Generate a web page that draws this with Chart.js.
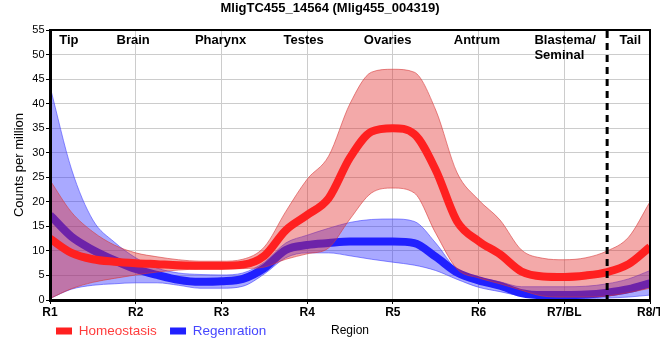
<!DOCTYPE html>
<html><head><meta charset="utf-8">
<script src="https://cdn.jsdelivr.net/npm/chart.js@4.4.1/dist/chart.umd.min.js"></script>
<style>html,body{margin:0;padding:0;background:#fff;overflow:hidden}#wrap{width:660px;height:360px;position:relative;overflow:hidden}</style>
</head><body><div id="wrap"><canvas id="c" width="660" height="360"></canvas></div>
<script>
// ---- data ----
const positions = [1,1.25,1.5,1.75,2,2.25,2.5,2.75,3,3.25,3.5,3.75,4,4.25,4.5,4.75,5,5.25,5.5,5.75,6,6.25,6.5,6.75,7,7.25,7.5,7.75,8];
const regionTicks = ['R1','R2','R3','R4','R5','R6','R7/BL','R8/T'];
const sectionLabels = [['Tip'],['Brain'],['Pharynx'],['Testes'],['Ovaries'],['Antrum'],['Blastema/','Seminal'],['Tail']];
const sectionX = [1.22,1.97,2.99,3.96,4.94,5.98,7.01,7.77];
const dividerX = 7.5;

const homeoMean  = [12.5,9.6,8.3,7.8,7.5,7.3,7.1,7.0,7.0,7.2,9.0,14.2,17.3,20.7,29.0,34.3,35.0,33.8,26.5,16.0,12.0,9.3,5.8,4.8,4.7,5.0,5.7,7.3,10.8];
const homeoUpper = [24.4,17.9,13.9,11.2,9.6,8.8,8.2,7.9,7.9,8.3,10.8,18.0,24.6,29.3,40.0,46.4,47.0,46.4,38.7,25.9,20.4,16.3,10.2,8.5,8.2,8.6,10.0,12.8,20.0];
const homeoLower = [0.3,2.3,3.6,4.4,5.1,5.7,6.1,6.3,6.3,6.4,6.7,8.3,9.4,10.6,16.5,21.8,22.8,21.8,13.6,6.3,4.5,3.3,2.0,0.8,0.6,0.6,0.8,1.5,2.4];

const regenMean  = [17.3,12.9,10.2,8.1,6.3,5.1,4.1,3.7,3.8,4.3,6.5,10.2,11.2,11.6,11.9,11.9,11.9,11.6,8.8,5.6,4.0,2.9,1.4,1.0,1.0,1.1,1.5,2.2,3.4];
const regenUpper = [43.5,26.7,16.3,11.8,8.6,6.5,5.5,5.2,5.1,5.5,7.7,11.6,13.2,14.6,15.8,16.4,16.5,16.0,11.6,6.1,4.6,3.7,2.7,2.7,2.7,2.8,3.3,4.3,6.0];
const regenLower = [0.3,2.2,3.0,3.3,3.5,3.5,3.0,2.4,2.4,2.8,5.3,8.6,9.6,9.6,9.0,8.3,7.7,7.1,6.0,4.2,2.6,1.7,0.8,0.4,0.3,0.3,0.4,0.6,1.0];

// ---- styles ----
const RED = 'rgb(255,32,32)', BLUE = 'rgb(32,32,255)';
const RED_BAND = 'rgba(225,40,40,0.4)', BLUE_BAND = 'rgba(40,40,255,0.4)';
const RED_EDGE = 'rgba(215,60,60,0.6)', BLUE_EDGE = 'rgba(70,70,255,0.6)';

Chart.defaults.font.family = '"Liberation Sans", Arial, sans-serif';
Chart.defaults.color = '#000';

const pts = arr => positions.map((x, i) => ({x, y: arr[i]}));
const common = {pointRadius: 0, pointHoverRadius: 0, cubicInterpolationMode: 'monotone'};

const decor = {
  id: 'decor',
  beforeDraw(chart) {
    const lg = chart.legend;
    if (lg) { lg.left = 42.75; lg.right = 660; lg.top = 311; lg.bottom = 360; lg.width = 617.25; lg.height = 49; }
  },
  afterDraw(chart) {
    const {ctx, chartArea: a, scales: {x}} = chart;
    ctx.save();
    ctx.strokeStyle = '#000';
    ctx.lineWidth = 2;
    ctx.beginPath();
    ctx.moveTo(a.left, a.top); ctx.lineTo(a.right, a.top); ctx.lineTo(a.right, a.bottom);
    ctx.stroke();
    const dx = x.getPixelForValue(dividerX);
    ctx.setLineDash([7, 5]);
    ctx.lineWidth = 3;
    ctx.beginPath(); ctx.moveTo(dx, a.top + 1); ctx.lineTo(dx, a.bottom + 6); ctx.stroke();
    ctx.setLineDash([]);
    ctx.font = 'bold 13px "Liberation Sans", Arial, sans-serif';
    ctx.fillStyle = '#000'; ctx.textAlign = 'left'; ctx.textBaseline = 'alphabetic';
    sectionLabels.forEach((lines, i) => {
      const w = Math.max(...lines.map(l => ctx.measureText(l).width));
      const left = x.getPixelForValue(sectionX[i]) - w / 2;
      lines.forEach((l, j) => ctx.fillText(l, left, a.top + 14 + j * 15));
    });
    ctx.restore();
  }
};

new Chart(document.getElementById('c'), {
  type: 'line',
  data: {
    datasets: [
      {label: 'Homeostasis', data: pts(homeoMean), borderColor: RED, backgroundColor: RED, borderWidth: 8, fill: false, ...common},
      {label: 'hUpper', data: pts(homeoUpper), borderColor: RED_EDGE, backgroundColor: RED_BAND, borderWidth: 1, fill: '+1', ...common},
      {label: 'hLower', data: pts(homeoLower), borderColor: RED_EDGE, backgroundColor: RED_BAND, borderWidth: 1, fill: false, ...common},
      {label: 'Regenration', data: pts(regenMean), borderColor: BLUE, backgroundColor: BLUE, borderWidth: 8, fill: false, ...common},
      {label: 'rUpper', data: pts(regenUpper), borderColor: BLUE_EDGE, backgroundColor: BLUE_BAND, borderWidth: 1, fill: '+1', ...common},
      {label: 'rLower', data: pts(regenLower), borderColor: BLUE_EDGE, backgroundColor: BLUE_BAND, borderWidth: 1, fill: false, ...common}
    ]
  },
  options: {
    responsive: false, animation: false, devicePixelRatio: 1,
    layout: {padding: 0},
    plugins: {
      title: {display: true, text: 'MligTC455_14564 (Mlig455_004319)', color: '#000',
              font: {size: 13, weight: 'bold'}, padding: {top: 1, bottom: 13.4}},
      legend: {
        display: true, position: 'bottom', align: 'start', maxHeight: 0.01,
        labels: {
          boxWidth: 16, boxHeight: 7, padding: 13.25, font: {size: 13.5},
          filter: item => item.datasetIndex === 0 || item.datasetIndex === 3,
          generateLabels(chart) {
            const items = Chart.defaults.plugins.legend.labels.generateLabels(chart);
            items.forEach(it => {
              it.lineWidth = 0;
              it.fontColor = it.datasetIndex === 0 ? 'rgb(255,60,60)' : 'rgb(70,70,255)';
            });
            return items;
          }
        }
      },
      tooltip: {enabled: false}
    },
    scales: {
      x: {
        type: 'linear', min: 1, max: 8,
        ticks: {stepSize: 1, autoSkip: false, maxRotation: 0, padding: 1,
                font: {size: 12, weight: 'bold'}, color: '#000',
                callback: v => Number.isInteger(v) ? regionTicks[v - 1] : ''},
        grid: {color: '#cccccc', lineWidth: 1, tickLength: 4, tickColor: '#000'},
        border: {display: true, color: '#000', width: 3, z: 1},
        title: {display: true, text: 'Region', font: {size: 12}, color: '#000', padding: {top: 0, bottom: 21.8}},
        afterFit(s) { s.paddingLeft = 0; s.paddingRight = 10; s.height = 59.99; }
      },
      y: {
        min: 0, max: 55,
        ticks: {stepSize: 5, padding: 1.5, font: {size: 11}, color: '#000'},
        grid: {color: '#cccccc', lineWidth: 1, tickLength: 4, tickColor: '#000'},
        border: {display: true, color: '#000', width: 3, z: 1},
        title: {display: true, text: 'Counts per million', font: {size: 13}, color: '#000', padding: {top: 11.2, bottom: 0}},
        afterFit(s) { s.width = 50; }
      }
    }
  },
  plugins: [decor]
});
</script>
</body></html>
